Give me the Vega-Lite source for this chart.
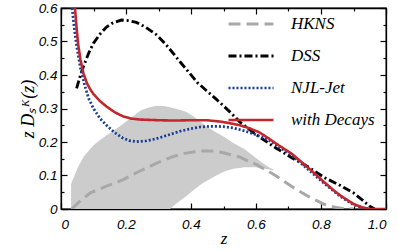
{
  "$schema": "https://vega.github.io/schema/vega-lite/v6.json",
  "width": 325,
  "height": 201,
  "autosize": "none",
  "padding": {"left": 61, "top": 8, "right": 13, "bottom": 43},
  "background": "white",
  "config": {
    "view": {"stroke": "black", "strokeWidth": 1.3},
    "axis": {"grid": false, "domainColor": "black", "domainWidth": 1.3, "tickColor": "black", "tickWidth": 1.2, "labelColor": "black", "titleColor": "black"}
  },
  "datasets": {
    "band": [
      {"z": 0.031, "lo": 0, "hi": 0.075}, {"z": 0.05, "lo": 0, "hi": 0.12}, {"z": 0.07, "lo": 0, "hi": 0.157},
      {"z": 0.1, "lo": 0, "hi": 0.19}, {"z": 0.12, "lo": 0, "hi": 0.206}, {"z": 0.15, "lo": 0, "hi": 0.226},
      {"z": 0.18, "lo": 0, "hi": 0.246}, {"z": 0.21, "lo": 0, "hi": 0.268}, {"z": 0.245, "lo": 0, "hi": 0.294},
      {"z": 0.27, "lo": 0, "hi": 0.303}, {"z": 0.295, "lo": 0, "hi": 0.308}, {"z": 0.32, "lo": 0, "hi": 0.307},
      {"z": 0.335, "lo": 0, "hi": 0.304}, {"z": 0.36, "lo": 0.02, "hi": 0.298}, {"z": 0.385, "lo": 0.038, "hi": 0.29},
      {"z": 0.41, "lo": 0.058, "hi": 0.275}, {"z": 0.43, "lo": 0.073, "hi": 0.26}, {"z": 0.45, "lo": 0.085, "hi": 0.245},
      {"z": 0.478, "lo": 0.1, "hi": 0.228}, {"z": 0.504, "lo": 0.113, "hi": 0.214}, {"z": 0.53, "lo": 0.12, "hi": 0.197},
      {"z": 0.565, "lo": 0.125, "hi": 0.178}, {"z": 0.6, "lo": 0.125, "hi": 0.152}, {"z": 0.62, "lo": 0.122, "hi": 0.137},
      {"z": 0.64, "lo": 0.118, "hi": 0.125}, {"z": 0.655, "lo": 0.115, "hi": 0.117}
    ],
    "curves": [
      {"series": "HKNS", "z": 0.033, "v": 0}, {"series": "HKNS", "z": 0.06, "v": 0.025}, {"series": "HKNS", "z": 0.09, "v": 0.048},
      {"series": "HKNS", "z": 0.14, "v": 0.068}, {"series": "HKNS", "z": 0.19, "v": 0.087}, {"series": "HKNS", "z": 0.24, "v": 0.112},
      {"series": "HKNS", "z": 0.29, "v": 0.135}, {"series": "HKNS", "z": 0.34, "v": 0.155}, {"series": "HKNS", "z": 0.38, "v": 0.166},
      {"series": "HKNS", "z": 0.43, "v": 0.173}, {"series": "HKNS", "z": 0.47, "v": 0.173}, {"series": "HKNS", "z": 0.5, "v": 0.168},
      {"series": "HKNS", "z": 0.55, "v": 0.155}, {"series": "HKNS", "z": 0.6, "v": 0.133}, {"series": "HKNS", "z": 0.63, "v": 0.117},
      {"series": "HKNS", "z": 0.66, "v": 0.1}, {"series": "HKNS", "z": 0.71, "v": 0.067}, {"series": "HKNS", "z": 0.76, "v": 0.038},
      {"series": "HKNS", "z": 0.81, "v": 0.014}, {"series": "HKNS", "z": 0.84, "v": 0.006}, {"series": "HKNS", "z": 0.87, "v": 0.001},
      {"series": "HKNS", "z": 0.9, "v": 0},

      {"series": "DSS", "z": 0.048, "v": 0.36}, {"series": "DSS", "z": 0.06, "v": 0.4}, {"series": "DSS", "z": 0.069, "v": 0.425},
      {"series": "DSS", "z": 0.085, "v": 0.465}, {"series": "DSS", "z": 0.1, "v": 0.495}, {"series": "DSS", "z": 0.12, "v": 0.522},
      {"series": "DSS", "z": 0.14, "v": 0.543}, {"series": "DSS", "z": 0.16, "v": 0.556}, {"series": "DSS", "z": 0.186, "v": 0.564},
      {"series": "DSS", "z": 0.21, "v": 0.562}, {"series": "DSS", "z": 0.232, "v": 0.557}, {"series": "DSS", "z": 0.26, "v": 0.543},
      {"series": "DSS", "z": 0.294, "v": 0.52}, {"series": "DSS", "z": 0.32, "v": 0.494}, {"series": "DSS", "z": 0.345, "v": 0.465},
      {"series": "DSS", "z": 0.37, "v": 0.435}, {"series": "DSS", "z": 0.396, "v": 0.405}, {"series": "DSS", "z": 0.42, "v": 0.377},
      {"series": "DSS", "z": 0.448, "v": 0.353}, {"series": "DSS", "z": 0.475, "v": 0.33}, {"series": "DSS", "z": 0.5, "v": 0.308},
      {"series": "DSS", "z": 0.525, "v": 0.285}, {"series": "DSS", "z": 0.55, "v": 0.26}, {"series": "DSS", "z": 0.6, "v": 0.222},
      {"series": "DSS", "z": 0.66, "v": 0.183}, {"series": "DSS", "z": 0.71, "v": 0.153}, {"series": "DSS", "z": 0.76, "v": 0.126},
      {"series": "DSS", "z": 0.81, "v": 0.094}, {"series": "DSS", "z": 0.86, "v": 0.07}, {"series": "DSS", "z": 0.9, "v": 0.048},
      {"series": "DSS", "z": 0.93, "v": 0.025}, {"series": "DSS", "z": 0.95, "v": 0.008}, {"series": "DSS", "z": 0.965, "v": 0},

      {"series": "NJL-Jet", "z": 0.034, "v": 0.6}, {"series": "NJL-Jet", "z": 0.042, "v": 0.53}, {"series": "NJL-Jet", "z": 0.05, "v": 0.475},
      {"series": "NJL-Jet", "z": 0.06, "v": 0.42}, {"series": "NJL-Jet", "z": 0.071, "v": 0.376}, {"series": "NJL-Jet", "z": 0.085, "v": 0.33},
      {"series": "NJL-Jet", "z": 0.1, "v": 0.3}, {"series": "NJL-Jet", "z": 0.12, "v": 0.27}, {"series": "NJL-Jet", "z": 0.14, "v": 0.25},
      {"series": "NJL-Jet", "z": 0.165, "v": 0.228}, {"series": "NJL-Jet", "z": 0.19, "v": 0.212}, {"series": "NJL-Jet", "z": 0.21, "v": 0.204},
      {"series": "NJL-Jet", "z": 0.232, "v": 0.201}, {"series": "NJL-Jet", "z": 0.26, "v": 0.203}, {"series": "NJL-Jet", "z": 0.294, "v": 0.21},
      {"series": "NJL-Jet", "z": 0.33, "v": 0.221}, {"series": "NJL-Jet", "z": 0.366, "v": 0.232}, {"series": "NJL-Jet", "z": 0.4, "v": 0.24},
      {"series": "NJL-Jet", "z": 0.43, "v": 0.245}, {"series": "NJL-Jet", "z": 0.46, "v": 0.247}, {"series": "NJL-Jet", "z": 0.5, "v": 0.246},
      {"series": "NJL-Jet", "z": 0.53, "v": 0.242}, {"series": "NJL-Jet", "z": 0.565, "v": 0.233}, {"series": "NJL-Jet", "z": 0.6, "v": 0.222},
      {"series": "NJL-Jet", "z": 0.64, "v": 0.205}, {"series": "NJL-Jet", "z": 0.67, "v": 0.186}, {"series": "NJL-Jet", "z": 0.71, "v": 0.16},
      {"series": "NJL-Jet", "z": 0.77, "v": 0.11}, {"series": "NJL-Jet", "z": 0.81, "v": 0.076}, {"series": "NJL-Jet", "z": 0.86, "v": 0.037},
      {"series": "NJL-Jet", "z": 0.9, "v": 0.013}, {"series": "NJL-Jet", "z": 0.93, "v": 0.003}, {"series": "NJL-Jet", "z": 0.95, "v": 0},

      {"series": "with Decays", "z": 0.043, "v": 0.6}, {"series": "with Decays", "z": 0.048, "v": 0.54}, {"series": "with Decays", "z": 0.053, "v": 0.49},
      {"series": "with Decays", "z": 0.06, "v": 0.445}, {"series": "with Decays", "z": 0.069, "v": 0.405}, {"series": "with Decays", "z": 0.08, "v": 0.375},
      {"series": "with Decays", "z": 0.09, "v": 0.357}, {"series": "with Decays", "z": 0.1, "v": 0.343}, {"series": "with Decays", "z": 0.12, "v": 0.322},
      {"series": "with Decays", "z": 0.14, "v": 0.306}, {"series": "with Decays", "z": 0.165, "v": 0.289}, {"series": "with Decays", "z": 0.19, "v": 0.277},
      {"series": "with Decays", "z": 0.215, "v": 0.27}, {"series": "with Decays", "z": 0.243, "v": 0.267}, {"series": "with Decays", "z": 0.3, "v": 0.265},
      {"series": "with Decays", "z": 0.345, "v": 0.264}, {"series": "with Decays", "z": 0.4, "v": 0.265}, {"series": "with Decays", "z": 0.448, "v": 0.265},
      {"series": "with Decays", "z": 0.49, "v": 0.261}, {"series": "with Decays", "z": 0.52, "v": 0.256}, {"series": "with Decays", "z": 0.55, "v": 0.25},
      {"series": "with Decays", "z": 0.58, "v": 0.241}, {"series": "with Decays", "z": 0.61, "v": 0.229}, {"series": "with Decays", "z": 0.64, "v": 0.21},
      {"series": "with Decays", "z": 0.67, "v": 0.19}, {"series": "with Decays", "z": 0.71, "v": 0.165}, {"series": "with Decays", "z": 0.74, "v": 0.14},
      {"series": "with Decays", "z": 0.77, "v": 0.115}, {"series": "with Decays", "z": 0.81, "v": 0.08}, {"series": "with Decays", "z": 0.84, "v": 0.055},
      {"series": "with Decays", "z": 0.86, "v": 0.04}, {"series": "with Decays", "z": 0.9, "v": 0.015},
      {"series": "with Decays", "z": 0.93, "v": 0.004}, {"series": "with Decays", "z": 0.95, "v": 0}, {"series": "with Decays", "z": 1.0, "v": 0}
    ]
  },
  "layer": [
    {
      "data": {"name": "band"},
      "mark": {"type": "area", "color": "#cccccc", "opacity": 1},
      "encoding": {
        "x": {
          "field": "z", "type": "quantitative",
          "scale": {"domain": [0, 1], "nice": false, "zero": false},
          "axis": {
            "orient": "bottom",
            "values": [0, 0.1, 0.2, 0.3, 0.4, 0.5, 0.6, 0.7, 0.8, 0.9, 1.0],
            "labelExpr": "abs(datum.value*5-round(datum.value*5))<0.001 ? (datum.value==0 ? '0' : format(datum.value, '.1f')) : ''",
            "tickSize": {"condition": {"test": "abs(datum.value*5-round(datum.value*5))<0.001", "value": -6}, "value": -3},
            "labelPadding": 14,
            "labelFont": "Liberation Sans", "labelFontStyle": "italic", "labelFontSize": 13.5,
            "title": "z", "titleFont": "Liberation Serif", "titleFontStyle": "italic", "titleFontWeight": "normal", "titleFontSize": 17,
            "titlePadding": 0
          }
        },
        "y": {
          "field": "lo", "type": "quantitative",
          "scale": {"domain": [0, 0.6], "nice": false},
          "axis": {
            "orient": "left",
            "values": [0, 0.05, 0.1, 0.15, 0.2, 0.25, 0.3, 0.35, 0.4, 0.45, 0.5, 0.55, 0.6],
            "labelExpr": "abs(datum.value*10-round(datum.value*10))<0.001 ? (datum.value==0 ? '0' : format(datum.value, '.1f')) : ''",
            "tickSize": {"condition": {"test": "abs(datum.value*10-round(datum.value*10))<0.001", "value": -6}, "value": -3},
            "labelPadding": 10,
            "labelFont": "Liberation Sans", "labelFontStyle": "italic", "labelFontSize": 13.5,
            "title": "z Dₛᴷ(z)", "titleFont": "Liberation Serif", "titleFontStyle": "italic", "titleFontWeight": "normal", "titleFontSize": 18,
            "titlePadding": 1
          }
        },
        "y2": {"field": "hi"}
      }
    },
    {
      "data": {"name": "curves"},
      "mark": {"type": "line", "clip": true, "strokeCap": "butt"},
      "encoding": {
        "x": {
          "field": "z", "type": "quantitative",
          "axis": {
            "orient": "top",
            "values": [0, 0.1, 0.2, 0.3, 0.4, 0.5, 0.6, 0.7, 0.8, 0.9, 1.0],
            "labels": false, "title": null,
            "tickSize": {"condition": {"test": "abs(datum.value*5-round(datum.value*5))<0.001", "value": -6}, "value": -3}
          }
        },
        "y": {
          "field": "v", "type": "quantitative",
          "axis": {
            "orient": "right",
            "values": [0, 0.05, 0.1, 0.15, 0.2, 0.25, 0.3, 0.35, 0.4, 0.45, 0.5, 0.55, 0.6],
            "labels": false, "title": null,
            "tickSize": {"condition": {"test": "abs(datum.value*10-round(datum.value*10))<0.001", "value": -6}, "value": -3}
          }
        },
        "color": {
          "field": "series", "type": "nominal",
          "scale": {"domain": ["HKNS", "DSS", "NJL-Jet", "with Decays"], "range": ["#a8a8a8", "#000000", "#143c96", "#c1272d"]},
          "legend": {
            "title": null, "orient": "none", "legendX": 166, "legendY": -8,
            "symbolType": "stroke", "symbolSize": 2025, "symbolStrokeWidth": 3,
            "labelFont": "Liberation Serif", "labelFontStyle": "italic", "labelFontSize": 17, "labelColor": "black",
            "rowPadding": -16, "labelOffset": 16
          }
        },
        "strokeDash": {
          "field": "series", "type": "nominal",
          "scale": {"domain": ["HKNS", "DSS", "NJL-Jet", "with Decays"], "range": [[12, 6], [8, 3, 2, 3], [2, 2], [1, 0]]},
          "legend": {
            "title": null, "orient": "none", "legendX": 166, "legendY": -8,
            "symbolType": "stroke", "symbolSize": 2025, "symbolStrokeWidth": 3,
            "labelFont": "Liberation Serif", "labelFontStyle": "italic", "labelFontSize": 17, "labelColor": "black",
            "rowPadding": -16, "labelOffset": 16
          }
        },
        "strokeWidth": {
          "field": "series", "type": "nominal",
          "scale": {"domain": ["HKNS", "DSS", "NJL-Jet", "with Decays"], "range": [3, 2.6, 2.6, 2.8]},
          "legend": null
        }
      }
    }
  ],
  "resolve": {"axis": {"x": "independent", "y": "independent"}}
}
